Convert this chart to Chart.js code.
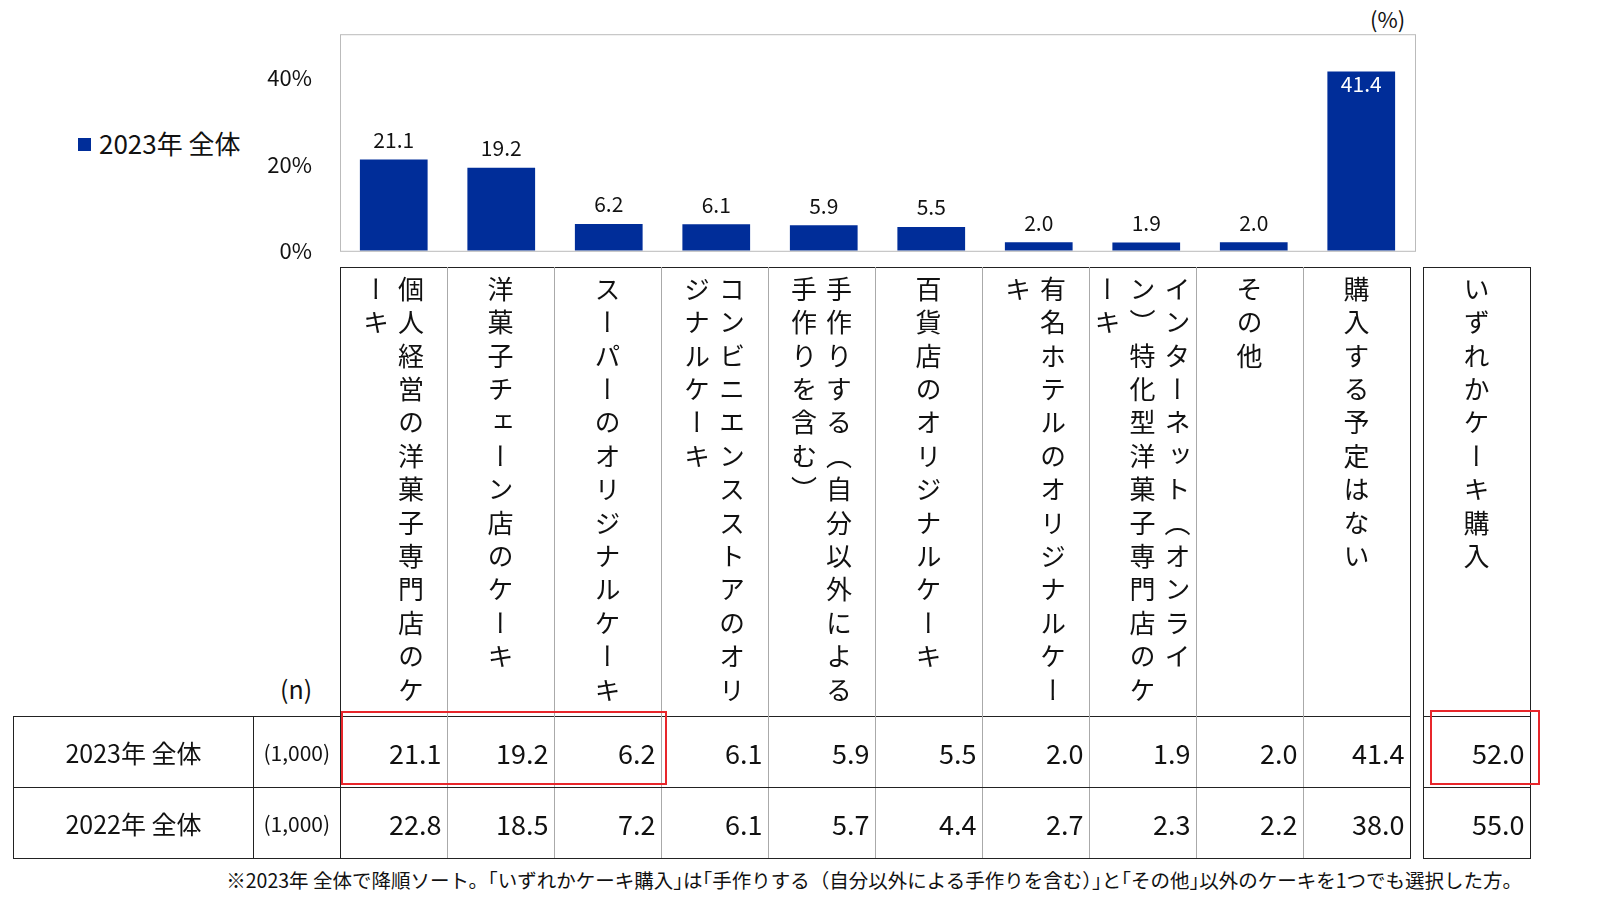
<!DOCTYPE html>
<html><head><meta charset="utf-8">
<script src="https://cdn.jsdelivr.net/npm/chart.js@4"></script>
<style>
body{margin:0;width:1601px;height:917px;background:#fff;font-family:"Noto Sans CJK JP","Noto Sans",sans-serif;color:#111;position:relative;overflow:hidden}
.abs{position:absolute}
#chartBox{left:260px;top:1px;width:1160px;height:283px}
table{border-collapse:collapse;position:absolute}
td{border:1.5px solid #222;padding:0}
.hd{height:444px;width:106px;vertical-align:top}
.vt{writing-mode:vertical-rl;font-size:26px;letter-spacing:7.4px;line-height:35px;height:440px;margin:8px auto 0;}
.num{font-size:27px;text-align:right;padding-right:5px;height:70px}
.red{position:absolute;border:2px solid #e8262b}
</style></head><body>
<div class="abs" style="left:1370px;top:2px;font-size:22px">(%)</div>
<div class="abs" style="left:78px;top:124px;font-size:26px"><span style="display:inline-block;width:13px;height:13px;background:#002d99;margin-right:8px;vertical-align:3px"></span>2023年 全体</div>
<div class="abs" id="chartBox"><canvas id="c"></canvas></div>
<div class="abs" style="left:280px;top:670px;font-size:25px">(n)</div>
<div id="tbl"></div>
<div class="abs" style="left:0;width:1522px;text-align:right;top:865px;font-size:19.5px">※2023年 全体で降順ソート。｢いずれかケーキ購入｣は｢手作りする（自分以外による手作りを含む）｣と｢その他｣以外のケーキを1つでも選択した方。</div>
<div class="red" style="left:341px;top:711px;width:322px;height:70px"></div>
<div class="red" style="left:1430px;top:710px;width:106px;height:71px"></div>
<script>
// ============ Data ============
const categories = ['個人経営の洋菓子専門店のケーキ','洋菓子チェーン店のケーキ','スーパーのオリジナルケーキ','コンビニエンスストアのオリジナルケーキ','手作りする（自分以外による手作りを含む）','百貨店のオリジナルケーキ','有名ホテルのオリジナルケーキ','インターネット（オンライン）特化型洋菓子専門店のケーキ','その他','購入する予定はない'];
const values2023 = [21.1,19.2,6.2,6.1,5.9,5.5,2.0,1.9,2.0,41.4];
const values2022 = [22.8,18.5,7.2,6.1,5.7,4.4,2.7,2.3,2.2,38.0];
const anyLabel = 'いずれかケーキ購入';
const any2023 = 52.0, any2022 = 55.0;
const rowLabels = ['2023年 全体','2022年 全体'];
const nLabels = ['(1,000)','(1,000)'];
const yTicks = [0,20,40];

// ============ Table ============
function buildTable() {
    const t = document.createElement('table');
    t.style.left = '13px'; t.style.top = '267px';
    let h = '<tr><td style="border:none;width:240px"></td><td style="border:none;width:86px"></td>';
    categories.forEach((c,i) => { h += `<td class="hd" style="border-bottom:none;${i?'border-left:1px solid #aaa;':''}${i<9?'border-right:1px solid #aaa':''}"><div class="vt">${c}</div></td>`; });
    h += '<td style="border:none;width:12px"></td><td class="hd"><div class="vt">'+anyLabel+'</div></td></tr>';
    [values2023, values2022].forEach((vals,r) => {
        const any = r ? any2022 : any2023;
        h += `<tr><td style="font-size:25px;text-align:center;height:70px">${rowLabels[r]}</td><td style="font-size:21px;text-align:center">${nLabels[r]}</td>`;
        vals.forEach((v,i) => { h += `<td class="num" style="${i?'border-left:1px solid #aaa;':''}${i<9?'border-right:1px solid #aaa':''}">${v.toFixed(1)}</td>`; });
        h += `<td style="border:none"></td><td class="num">${any.toFixed(1)}</td></tr>`;
    });
    t.innerHTML = h;
    document.getElementById('tbl').appendChild(t);
}
buildTable();

// ============ Chart ============
const frame = {
    id: 'frame',
    afterDraw(ch) {
        const a = ch.chartArea, x = ch.ctx;
        x.save(); x.strokeStyle = '#bbb'; x.lineWidth = 1;
        x.strokeRect(a.left+0.5, a.top+0.5, a.right-a.left, a.bottom-a.top);
        x.font = '21px "Noto Sans CJK JP", "Noto Sans"'; x.textAlign = 'center';
        const meta = ch.getDatasetMeta(0);
        meta.data.forEach((b,i) => {
            const v = values2023[i];
            if (v > 30) { x.fillStyle = '#fff'; x.textBaseline = 'top'; x.fillText(v.toFixed(1), b.x, b.y + 2); }
            else { x.fillStyle = '#111'; x.textBaseline = 'bottom'; x.fillText(v.toFixed(1), b.x, b.y - 9); }
        });
        x.restore();
    }
};
new Chart(document.getElementById('c'), {
    type: 'bar',
    data: { labels: categories, datasets: [{ data: values2023, backgroundColor: '#002d99', barPercentage: 0.63, categoryPercentage: 1 }] },
    options: {
        responsive: true, maintainAspectRatio: false, animation: false,
        layout: { padding: { top: 12, right: 5, bottom: 7 } },
        plugins: { legend: { display: false }, tooltip: { enabled: false } },
        scales: {
            x: { display: false },
            y: {
                min: 0, max: 50,
                afterBuildTicks: s => { s.ticks = yTicks.map(v => ({ value: v })); },
                afterFit: s => { s.width = 80; },
                grid: { display: false }, border: { display: false },
                ticks: { color: '#111', font: { size: 22, family: '"Noto Sans CJK JP","Noto Sans"' }, padding: 20, callback: v => v + '%' }
            }
        }
    },
    plugins: [frame]
});
</script>
</body></html>
